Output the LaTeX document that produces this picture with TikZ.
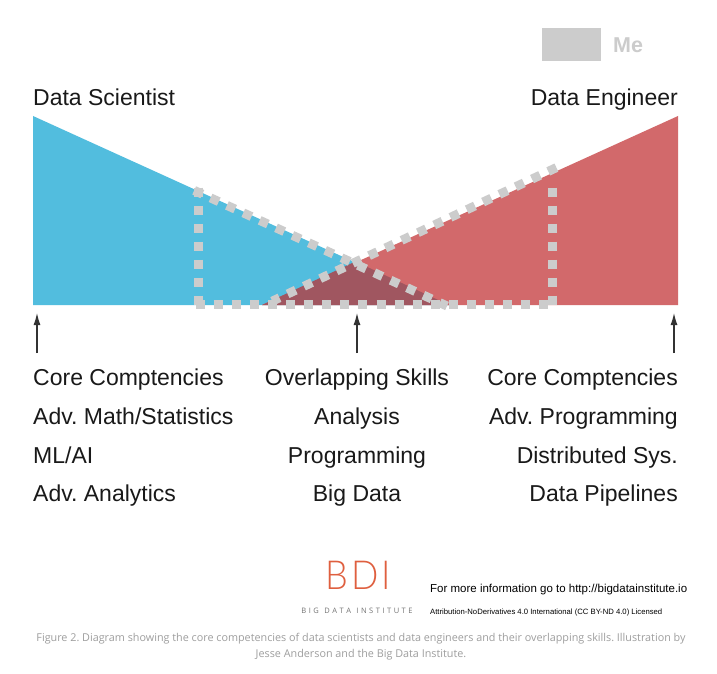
\documentclass[tikz,border=0pt]{standalone}
\usepackage{fontspec}
\setmainfont{Liberation Sans}
\newfontfamily\capfont{Open Sans}
\newfontfamily\logofont{Lato Light}
\usetikzlibrary{arrows.meta}
\definecolor{dsblue}{HTML}{52BDDE}
\definecolor{dered}{HTML}{D2696B}
\definecolor{overlap}{HTML}{A05660}
\definecolor{dashgray}{HTML}{CCCCCC}
\definecolor{logored}{HTML}{DF5F3F}
\tikzset{
  lbl/.style={inner sep=0pt,font=\frenchspacing\fontsize{23}{23}\selectfont,text=black!90},
  lbll/.style={lbl,anchor=base west},
  lblc/.style={lbl,anchor=base},
  lblr/.style={lbl,anchor=base east},
  pointer/.style={draw=black!80,line width=1.2pt,-{Latex[length=12pt,width=7pt]}},
  dotted outline/.style={draw=dashgray,line width=9pt,dash pattern=on 9pt off 9pt},
  capt/.style={inner sep=0pt,anchor=base,text=black!38,font=\frenchspacing\capfont\fontsize{10.8}{10.8}\selectfont}
}
\begin{document}
\begin{tikzpicture}[x=1pt,y=-1pt]
\useasboundingbox (0,0) rectangle (717,674);
\fill[white] (0,0) rectangle (717,674);
% legend
\node[fill=dashgray,minimum width=59pt,minimum height=33pt,inner sep=0pt,anchor=north west] (swatch) at (541.5,27.5) {};
\node[inner sep=0pt,anchor=base west,text=dashgray,font=\bfseries\fontsize{21.5}{21.5}\selectfont] (me) at (613,53) {Me};
% titles
\node[lbll] (ds) at (33,106) {Data Scientist};
\node[lblr] (de) at (678,106) {Data Engineer};
% wedges
\fill[dsblue] (33,116) -- (33,305) -- (449,305) -- cycle;
\fill[dered] (678,116) -- (678,305) -- (262,305) -- cycle;
\fill[overlap] (262,305) -- (355.5,261.5) -- (449,305) -- cycle;
% dotted outlines
\draw[dotted outline] (198.3,187.5) -- (198.3,304.5);
\draw[dotted outline] (552,187.5) -- (552,304.5);
\draw[dotted outline,dash pattern=on 9pt off 9.1pt] (195.5,304.5) -- (552,304.5);
\draw[dotted outline] (194.2,190.4) -- (447,306);
\draw[dotted outline] (556.4,167.6) -- (272.2,301.2);
% labels
\node[lbll] (a1) at (33,385) {Core Comptencies};
\node[lbll] (a2) at (33,424) {Adv. Math/Statistics};
\node[lbll] (a3) at (33,463) {ML/AI};
\node[lbll] (a4) at (33,501) {Adv. Analytics};
\node[lblc] (b1) at (357,385) {Overlapping Skills};
\node[lblc] (b2) at (357,424) {Analysis};
\node[lblc] (b3) at (357,463) {Programming};
\node[lblc] (b4) at (357,501) {Big Data};
\node[lblr] (c1) at (678,385) {Core Comptencies};
\node[lblr] (c2) at (678,424) {Adv. Programming};
\node[lblr] (c3) at (678,463) {Distributed Sys.};
\node[lblr] (c4) at (678,501) {Data Pipelines};
% pointers
\coordinate (p1s) at (37,353); \coordinate (p1e) at (37,313);
\coordinate (p2s) at (357,353); \coordinate (p2e) at (357,313);
\coordinate (p3s) at (674,353); \coordinate (p3e) at (674,313);
\draw[pointer] (p1s) -- (p1e);
\draw[pointer] (p2s) -- (p2e);
\draw[pointer] (p3s) -- (p3e);
% logo
\node[inner sep=0pt,anchor=base,text=logored,xscale=0.9,font=\logofont\fontsize{40}{40}\selectfont] (bdi) at (358,589) {B\hspace{3pt}D\hspace{3pt}I};
\node[inner sep=0pt,anchor=base,text=black!55,font=\capfont\fontsize{7.5}{7.5}\selectfont] (bdisub) at (357,613) {B\hspace{2.5pt}I\hspace{2.5pt}G\hspace{5.5pt}D\hspace{2.5pt}A\hspace{2.5pt}T\hspace{2.5pt}A\hspace{5.5pt}I\hspace{2.5pt}N\hspace{2.5pt}S\hspace{2.5pt}T\hspace{2.5pt}I\hspace{2.5pt}T\hspace{2.5pt}U\hspace{2.5pt}T\hspace{2.5pt}E};
\node[inner sep=0pt,anchor=base west,font=\fontsize{11.5}{11.5}\selectfont] (more) at (430,592) {For more information go to http://bigdatainstitute.io};
\node[inner sep=0pt,anchor=base west,font=\fontsize{7.7}{7.7}\selectfont] (lic) at (430,614.5) {Attribution-NoDerivatives 4.0 International (CC BY-ND 4.0) Licensed};
% caption
\node[capt] (cap1) at (361,641) {Figure 2. Diagram showing the core competencies of data scientists and data engineers and their overlapping skills. Illustration by};
\node[capt] (cap2) at (361,657) {Jesse Anderson and the Big Data Institute.};
\end{tikzpicture}
\end{document}
